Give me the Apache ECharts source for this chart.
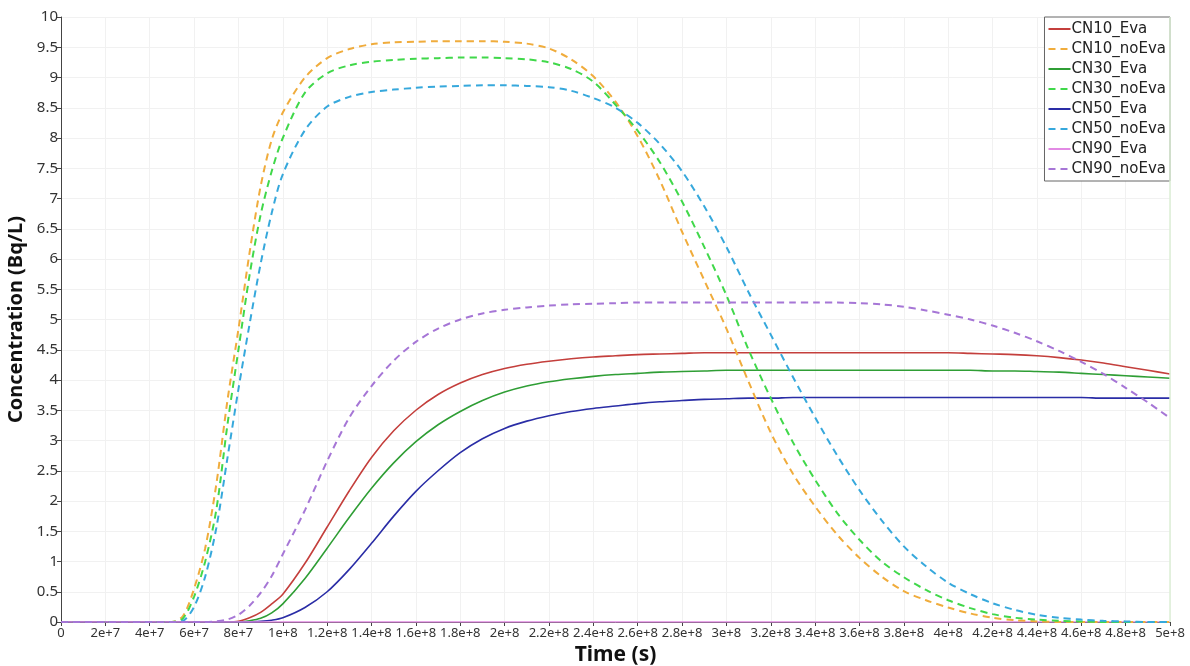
<!DOCTYPE html>
<html>
<head>
<meta charset="utf-8">
<script src="https://cdn.jsdelivr.net/npm/echarts@6/dist/echarts.min.js"></script>
<style>
  html, body { margin: 0; padding: 0; background: #ffffff; }
  #chart { width: 1190px; height: 666px; }
</style>
</head>
<body>
<div id="chart"></div>
<script>
// Sampling times (s)
const timeSeconds = [
  0, 2e7, 4e7, 5e7, 5.5e7, 6e7, 6.5e7, 7e7, 7.5e7, 8e7, 8.5e7, 9e7, 9.5e7,
  1e8, 1.1e8, 1.2e8, 1.3e8, 1.4e8, 1.5e8, 1.6e8, 1.7e8, 1.8e8, 1.9e8,
  2e8, 2.1e8, 2.2e8, 2.3e8, 2.4e8, 2.5e8, 2.6e8, 2.7e8, 2.8e8, 2.9e8,
  3e8, 3.1e8, 3.2e8, 3.3e8, 3.4e8, 3.5e8, 3.6e8, 3.7e8, 3.8e8, 3.9e8,
  4e8, 4.1e8, 4.2e8, 4.3e8, 4.4e8, 4.5e8, 4.6e8, 4.7e8, 4.8e8, 4.9e8,
  5e8
];

// Concentrations (Bq/L) at each sampling time
const cn10Eva = [
  0, 0, 0, 0, 0, 0, 0, 0, 0, 0.01, 0.07, 0.16, 0.3,
  0.46, 0.97, 1.57, 2.17, 2.72, 3.16, 3.5, 3.76, 3.95, 4.09,
  4.19, 4.26, 4.31, 4.35, 4.38, 4.4, 4.42, 4.43, 4.44, 4.45,
  4.45, 4.45, 4.45, 4.45, 4.45, 4.45, 4.45, 4.45, 4.45, 4.45,
  4.45, 4.44, 4.43, 4.42, 4.4, 4.37, 4.33, 4.28, 4.22, 4.16,
  4.1
];
const cn10NoEva = [
  0, 0, 0, 0, 0.1, 0.55, 1.22, 2.27, 3.65, 4.84, 6.1, 7.2, 7.97,
  8.42, 9.0, 9.32, 9.47, 9.55, 9.58, 9.59, 9.6, 9.6, 9.6,
  9.59, 9.56, 9.48, 9.3, 9.02, 8.6, 8.03, 7.3, 6.45, 5.65,
  4.85, 3.97, 3.13, 2.45, 1.91, 1.44, 1.06, 0.75, 0.51, 0.36,
  0.24, 0.14, 0.07, 0.03, 0.01, 0, 0, 0, 0, 0,
  0
];
const cn30Eva = [
  0, 0, 0, 0, 0, 0, 0, 0, 0, 0, 0.02, 0.06, 0.15,
  0.3, 0.72, 1.22, 1.73, 2.21, 2.63, 2.98, 3.26, 3.48, 3.66,
  3.8, 3.9, 3.97, 4.02, 4.06, 4.09, 4.11, 4.13, 4.14, 4.15,
  4.16, 4.16, 4.16, 4.16, 4.16, 4.16, 4.16, 4.16, 4.16, 4.16,
  4.16, 4.16, 4.15, 4.15, 4.14, 4.13, 4.11, 4.09, 4.07, 4.05,
  4.03
];
const cn30NoEva = [
  0, 0, 0, 0, 0.06, 0.42, 1.0, 1.85, 3.25, 4.5, 5.73, 6.73, 7.45,
  8.0, 8.75, 9.07, 9.2, 9.26, 9.29, 9.31, 9.32, 9.33, 9.33,
  9.32, 9.3, 9.25, 9.14, 8.93, 8.55, 8.12, 7.6, 6.95, 6.2,
  5.4, 4.5, 3.7, 2.97, 2.35, 1.8, 1.36, 1.0, 0.74, 0.53,
  0.36, 0.23, 0.13, 0.07, 0.04, 0.02, 0.01, 0, 0, 0,
  0
];
const cn50Eva = [
  0, 0, 0, 0, 0, 0, 0, 0, 0, 0, 0, 0.01, 0.03,
  0.07, 0.24, 0.5, 0.87, 1.3, 1.75, 2.16, 2.5, 2.8, 3.03,
  3.2, 3.32, 3.41, 3.48, 3.53, 3.57, 3.61, 3.64, 3.66, 3.68,
  3.69, 3.7, 3.7, 3.71, 3.71, 3.71, 3.71, 3.71, 3.71, 3.71,
  3.71, 3.71, 3.71, 3.71, 3.71, 3.71, 3.71, 3.7, 3.7, 3.7,
  3.7
];
const cn50NoEva = [
  0, 0, 0, 0, 0.02, 0.25, 0.75, 1.55, 2.7, 3.85, 4.92, 5.92, 6.76,
  7.4, 8.13, 8.52, 8.68, 8.76, 8.8, 8.83, 8.85, 8.86, 8.87,
  8.87, 8.86, 8.84, 8.78, 8.66, 8.5, 8.25, 7.9, 7.45, 6.87,
  6.2, 5.45, 4.75, 4.05, 3.38, 2.75, 2.18, 1.68, 1.25, 0.92,
  0.65, 0.46, 0.31, 0.2, 0.12, 0.07, 0.04, 0.02, 0.01, 0,
  0
];
const cn90Eva = [
  0, 0, 0, 0, 0, 0, 0, 0, 0, 0, 0, 0, 0,
  0, 0, 0, 0, 0, 0, 0, 0, 0, 0,
  0, 0, 0, 0, 0, 0, 0, 0, 0, 0,
  0, 0, 0, 0, 0, 0, 0, 0, 0, 0,
  0, 0, 0, 0, 0, 0, 0, 0, 0, 0,
  0
];
const cn90NoEva = [
  0, 0, 0, 0, 0, 0, 0, 0.01, 0.04, 0.12, 0.27, 0.48, 0.76,
  1.12, 1.85, 2.66, 3.38, 3.9, 4.32, 4.63, 4.85, 5.0, 5.1,
  5.16, 5.2, 5.23, 5.25, 5.26, 5.27, 5.28, 5.28, 5.28, 5.28,
  5.28, 5.28, 5.28, 5.28, 5.28, 5.28, 5.27, 5.25, 5.21, 5.15,
  5.08, 5.0, 4.9, 4.78, 4.64, 4.48, 4.3, 4.1, 3.87, 3.63,
  3.37
];

const seriesNames = [
  'CN10_Eva', 'CN10_noEva', 'CN30_Eva', 'CN30_noEva',
  'CN50_Eva', 'CN50_noEva', 'CN90_Eva', 'CN90_noEva'
];
const seriesValues = [cn10Eva, cn10NoEva, cn30Eva, cn30NoEva, cn50Eva, cn50NoEva, cn90Eva, cn90NoEva];
const seriesColors = [
  '#c43f3c', '#f0ac3c', '#2f9e35', '#40d84a',
  '#2a2da6', '#36a8dc', '#e28ae4', '#a676d6'
];
const seriesDashed = [false, true, false, true, false, true, false, true];

const labelFont = '"Noto Sans", "Open Sans", "DejaVu Sans", sans-serif';
const legendFont = '"DejaVu Sans", "Noto Sans", sans-serif';

function timeLabel(v) {
  if (v === 0) return '0';
  return Number(v).toExponential();
}

const series = seriesNames.map((name, k) => ({
  name: name,
  type: 'line',
  data: timeSeconds.map((t, i) => [t, seriesValues[k][i]]),
  symbol: 'none',
  showSymbol: false,
  smooth: 0.3,
  color: seriesColors[k],
  lineStyle: {
    color: seriesColors[k],
    width: seriesDashed[k] ? 2 : 1.6,
    type: seriesDashed[k] ? [7, 5] : 'solid'
  },
  emphasis: { disabled: true },
  z: seriesDashed[k] ? 3 : 2
}));

// faint frame line along the right end of the time range
series[6].markLine = {
  silent: true,
  symbol: 'none',
  label: { show: false },
  lineStyle: { color: '#dcefd6', width: 1.5, type: 'solid' },
  data: [{ xAxis: 5e8 }]
};

const chart = echarts.init(document.getElementById('chart'), null, { renderer: 'canvas' });
chart.setOption({
  animation: false,
  backgroundColor: '#ffffff',
  grid: {
    left: 61, right: 20, top: 17, bottom: 44,
    containLabel: false,
    outerBoundsMode: 'none'
  },
  legend: {
    orient: 'vertical',
    right: 20,
    top: 17,
    data: seriesNames,
    itemWidth: 22,
    itemHeight: 14,
    itemGap: 4,
    padding: [4, 4, 4, 3],
    backgroundColor: '#ffffff',
    borderColor: '#666666',
    borderWidth: 1,
    itemStyle: { opacity: 0 },
    textStyle: {
      fontFamily: legendFont, fontSize: 15, lineHeight: 16,
      color: '#222222', padding: [0, 0, 0, -4]
    }
  },
  xAxis: {
    type: 'value',
    min: 0,
    max: 5e8,
    interval: 2e7,
    name: 'Time (s)',
    nameLocation: 'middle',
    nameGap: 19,
    nameTextStyle: { fontFamily: labelFont, fontSize: 21, fontWeight: 'bold', color: '#111111' },
    axisLine: { show: true, onZero: false, lineStyle: { color: '#444444', width: 1 } },
    axisTick: { show: true, length: 4, lineStyle: { color: '#444444' } },
    axisLabel: {
      formatter: timeLabel,
      fontFamily: labelFont,
      fontSize: 13,
      color: '#333333',
      margin: 5,
      showMaxLabel: true,
      showMinLabel: true,
      hideOverlap: false
    },
    splitLine: { show: true, lineStyle: { color: '#f1f1f1', width: 1 } }
  },
  yAxis: {
    type: 'value',
    min: 0,
    max: 10,
    interval: 0.5,
    name: 'Concentration (Bq/L)',
    nameLocation: 'middle',
    nameGap: 24,
    nameTextStyle: { fontFamily: labelFont, fontSize: 20, fontWeight: 'bold', color: '#111111' },
    axisLine: { show: true, onZero: false, lineStyle: { color: '#444444', width: 1 } },
    axisTick: { show: true, length: 4, lineStyle: { color: '#444444' } },
    axisLabel: {
      fontFamily: labelFont,
      fontSize: 15,
      color: '#333333',
      margin: 3
    },
    splitLine: { show: true, lineStyle: { color: '#f1f1f1', width: 1 } }
  },
  series: series
});
</script>
</body>
</html>
